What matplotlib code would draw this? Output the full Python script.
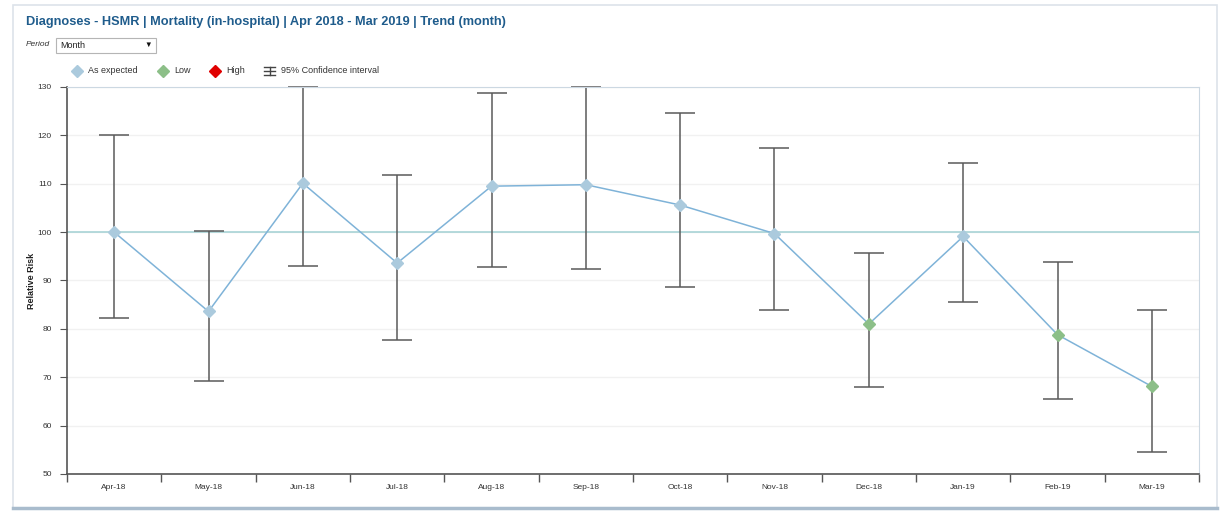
import matplotlib
matplotlib.use('Agg')
import matplotlib.pyplot as plt
from matplotlib.patches import Rectangle
from matplotlib.lines import Line2D

plt.rcParams['font.family'] = ['Liberation Sans', 'DejaVu Sans']

# Data
months = ['Apr-18', 'May-18', 'Jun-18', 'Jul-18', 'Aug-18', 'Sep-18',
          'Oct-18', 'Nov-18', 'Dec-18', 'Jan-19', 'Feb-19', 'Mar-19']
rr = [100.0, 83.6, 110.1, 93.6, 109.5, 109.8, 105.6, 99.7, 81.0, 99.1, 78.8, 68.1]
ci_low = [82.3, 69.3, 92.9, 77.7, 92.7, 92.4, 88.6, 83.9, 68.0, 85.6, 65.5, 54.6]
ci_high = [120.1, 100.3, 129.9, 111.8, 128.8, 130.0, 124.7, 117.3, 95.7, 114.2, 93.9, 83.9]
status = ['exp', 'exp', 'exp', 'exp', 'exp', 'exp', 'exp', 'exp', 'low', 'exp', 'low', 'low']

col_exp = '#abcadd'
col_low = '#8cbf88'
col_high = '#e00000'
col_line = '#7fb3d8'
col_title = '#1f5c8c'

W, H = 1223, 513
fig = plt.figure(figsize=(W / 100, H / 100), dpi=100)

def fx(px):
    return px / W

def fy(py):
    return 1 - py / H

# panel frame
fig.add_artist(Rectangle((fx(13), fy(508)), fx(1204), 503 / H,
                         transform=fig.transFigure, fill=False,
                         edgecolor='#dde3ea', lw=1.2))
fig.add_artist(Line2D([fx(13), fx(1217)], [fy(508), fy(508)],
                      transform=fig.transFigure, color='#a9bccd', lw=2.5))

fig.text(fx(26), fy(22), 'Diagnoses - HSMR | Mortality (in-hospital) | Apr 2018 - Mar 2019 | Trend (month)',
         fontsize=9.2, fontweight='bold', color=col_title, va='center')

# period selector
fig.text(fx(26), fy(45), 'Period', fontsize=6, style='italic', color='#333333', va='center')
fig.add_artist(Rectangle((fx(56), fy(53)), fx(100), 15 / H,
                         transform=fig.transFigure, facecolor='white',
                         edgecolor='#b5b5b5', lw=0.8))
fig.text(fx(60), fy(45.5), 'Month', fontsize=6.5, color='#222222', va='center')
fig.text(fx(148), fy(45.5), '\u25bc', fontsize=5.5, color='#111111', va='center', ha='center')

# legend
ly = fy(71)
for px, c, label in [(77, col_exp, 'As expected'), (163, col_low, 'Low'), (215, col_high, 'High')]:
    fig.add_artist(Line2D([fx(px)], [ly], transform=fig.transFigure, marker='D', ms=6.5,
                          color=c, ls='none'))
    fig.text(fx(px + 11), ly, label, fontsize=6.5, color='#333333', va='center')
# small error bar icon
ic = dict(transform=fig.transFigure, color='#444444', lw=1)
fig.add_artist(Line2D([fx(264), fx(275)], [fy(67), fy(67)], **ic))
fig.add_artist(Line2D([fx(264), fx(275)], [fy(75), fy(75)], **ic))
fig.add_artist(Line2D([fx(269.5), fx(269.5)], [fy(67), fy(75)], **ic))
fig.add_artist(Line2D([fx(264), fx(275)], [fy(71), fy(71)], **ic))
fig.text(fx(281), ly, '95% Confidence interval', fontsize=6.5, color='#333333', va='center')

ax = fig.add_axes([fx(67), 39 / H, 1132 / W, 387 / H])
x = list(range(len(months)))

ax.axhline(100, color='#a8d4d6', lw=1.2, zorder=1)
eb = ax.errorbar(x, rr, yerr=[[r - l for r, l in zip(rr, ci_low)], [h - r for r, h in zip(rr, ci_high)]],
                 fmt='none', ecolor='#5a5a5a', elinewidth=1.1, capsize=11, capthick=1.1, zorder=2)
for art in eb.lines[1] + eb.lines[2]:
    art.set_clip_on(False)
ax.plot(x, rr, color=col_line, lw=1.1, zorder=3)
for xi, v, s in zip(x, rr, status):
    ax.plot(xi, v, marker='D', ms=6.5, ls='none', zorder=4,
            color=col_low if s == 'low' else (col_high if s == 'high' else col_exp))

ax.set_xlim(-0.5, len(months) - 0.5)
ax.set_ylim(50, 130)
ax.set_yticks(range(50, 131, 10))
ax.set_xticks([i + 0.5 for i in range(-1, len(months))], minor=False)
ax.set_xticklabels([])
ax.set_xticks(x, minor=True)
ax.set_xticklabels(months, minor=True)
ax.tick_params(axis='x', which='major', length=6, color='#555555', width=1)
ax.tick_params(axis='x', which='minor', length=0, labelsize=6, labelcolor='#333333', pad=7)
ax.tick_params(axis='y', length=5, color='#555555', labelsize=6, labelcolor='#333333', pad=6)
ax.grid(axis='y', color='#f1f1f1', lw=1)
ax.set_axisbelow(True)
for side in ['top', 'right']:
    ax.spines[side].set_color('#ccd8e2')
for side in ['left', 'bottom']:
    ax.spines[side].set_color('#555555')
    ax.spines[side].set_linewidth(1.2)
ax.set_ylabel('Relative Risk', fontsize=6.5, fontweight='bold', color='#222222')
ax.yaxis.set_label_coords((36 - 67) / 1132, 0.5)

fig.savefig('out.png', dpi=100)
